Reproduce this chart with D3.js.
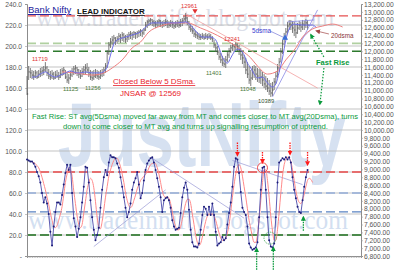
<!DOCTYPE html>
<html>
<head>
<meta charset="utf-8">
<script src="https://cdn.jsdelivr.net/npm/d3@7"></script>
<style>
  body { margin: 0; background: #fff; }
  svg { display: block; font-family: "Liberation Sans", Arial, sans-serif; }
</style>
</head>
<body>
<div id="chart"></div>
<script>
// axis ticks
const leftTicks = [0, 20, 40, 60, 80, 100, 120, 140, 160, 180, 200, 220, 240];
const rightTicks = [6800, 7000, 7200, 7400, 7600, 7800, 8000, 8200, 8400, 8600, 8800, 9000, 9200,
  9400, 9600, 9800, 10000, 10200, 10400, 10600, 10800, 11000, 11200, 11400, 11600, 11800,
  12000, 12200, 12400, 12600, 12800, 13000, 13200];

// Bank Nifty daily bars (price)
const close = [10915,11475,11450,11395,11370,11450,11345,11420,11475,11500,
  11525,11575,11450,11370,11345,11420,11320,11395,11370,11345,
  11420,11500,11525,11345,11270,11320,11395,11475,11550,11575,
  11525,11420,11370,11475,11525,11575,11525,11420,11345,11320,
  11370,11395,11370,11345,11395,11450,11525,11625,11955,12160,
  12235,12285,12335,12260,12310,12385,12335,12415,12360,12310,
  12360,12415,12440,12415,12465,12440,12465,12490,12515,12465,
  12540,12665,12745,12770,12795,12745,12720,12690,12745,12770,
  12720,12665,12720,12745,12690,12665,12720,12690,12640,12690,
  12720,12665,12745,12770,12820,12845,12745,12615,12565,12515,
  12440,12415,12385,12360,12360,12385,12335,12385,12360,12385,
  12335,12310,12160,12085,11980,11855,11780,11700,11675,11780,
  11905,12005,12085,12135,12110,12160,12110,12030,11905,11830,
  11725,11525,11420,11270,11320,11475,11525,11420,11370,11320,
  11345,11270,11170,11115,11065,10990,10940,11015,11220,11370,
  11575,11725,11980,12185,12360,12490,12640,12690,12665,12590,
  12540,12465,12590,12665,12615,12690,12665,12720,12665];
const high = [11370,11625,11575,11525,11500,11525,11500,11525,11575,11600,
  11625,11725,11625,11550,11500,11525,11475,11500,11525,11475,
  11550,11575,11600,11525,11450,11420,11500,11575,11625,11650,
  11600,11550,11525,11575,11625,11675,11700,11600,11525,11500,
  11525,11550,11525,11500,11525,11550,11600,11700,12030,12235,
  12335,12385,12415,12360,12385,12465,12440,12490,12465,12415,
  12440,12490,12515,12490,12515,12490,12515,12540,12565,12540,
  12590,12745,12795,12820,12845,12820,12795,12770,12795,12820,
  12795,12770,12795,12820,12795,12770,12795,12770,12745,12770,
  12795,12770,12820,12845,12895,12970,12870,12770,12690,12640,
  12565,12515,12490,12465,12440,12465,12440,12465,12440,12465,
  12440,12385,12285,12185,12135,12030,11955,11880,11830,11880,
  11980,12085,12160,12210,12185,12235,12210,12160,12085,11980,
  11905,11830,11725,11625,11525,11625,11650,11625,11575,11550,
  11525,11475,11420,11370,11320,11270,11195,11220,11320,11475,
  11675,11830,12085,12285,12465,12590,12745,12795,12795,12770,
  12745,12690,12720,12770,12745,12795,12770,12820,12795];
const low = [10890,11270,11320,11295,11270,11320,11295,11320,11345,11370,
  11395,11475,11370,11295,11270,11295,11270,11295,11320,11270,
  11320,11370,11395,11295,11195,11170,11270,11345,11395,11420,
  11370,11320,11295,11345,11395,11420,11450,11345,11270,11245,
  11270,11320,11295,11270,11295,11345,11370,11450,11575,11905,
  12085,12160,12185,12160,12185,12235,12210,12260,12235,12210,
  12235,12285,12310,12285,12335,12310,12335,12360,12385,12360,
  12415,12515,12590,12640,12665,12640,12615,12590,12615,12640,
  12615,12590,12615,12640,12590,12590,12615,12590,12565,12590,
  12615,12590,12615,12640,12690,12745,12665,12540,12490,12440,
  12360,12335,12310,12285,12285,12310,12285,12310,12285,12310,
  12285,12235,12085,11980,11905,11780,11700,11625,11600,11575,
  11725,11830,11955,12005,11980,12030,12005,11905,11780,11675,
  11575,11420,11320,11170,11115,11270,11320,11270,11220,11195,
  11170,11115,11065,11015,10965,10890,10840,10865,11015,11170,
  11320,11475,11725,11930,12160,12285,12440,12540,12540,12465,
  12385,12335,12440,12540,12490,12540,12540,12590,12540];

// moving averages (bar index, price)
const sma5Idx = [3,5,8,11,14,17,20,23,26,30,32,35,39,44,47,48,50,52,54,59,
  65,68,71,75,83,90,95,99,102,105,110,113,115,117,120,122,124,126,128,130,
  132,134,136,138,141,144,147,149,151,153,155,157,160,165,171,173];
const sma5Val = [11345,11345,11420,11475,11395,11345,11395,11450,11500,11450,
  11450,11475,11450,11450,11525,11600,11905,12185,12285,12360,
  12440,12490,12615,12720,12720,12720,12745,12615,12465,12360,
  12360,12285,12085,11855,11700,11830,11980,12055,12030,11905,
  11700,11575,11420,11320,11345,11195,11090,11170,11475,11830,
  12285,12565,12690,12665,12665,12615];
const sma20Idx = [21,29,39,46,51,57,63,68,73,80,89,96,104,111,117,123,129,134,
  138,144,150,155,161,165,171,177,183,189];
const sma20Val = [11475,11450,11395,11450,11575,11780,12085,12235,12490,12640,
  12720,12720,12590,12465,12335,12185,12005,11830,11625,11420,11500,11780,
  12085,12360,12565,12640,12690,12615];

// lead indicator (left scale) and its average
const lead = [92,91,90,90,88,85,80,76,70,60,
  51,56,50,40,23,10,28,42,51,51,
  49,58,68,79,87,82,87,60,36,28,
  18,26,37,51,66,85,84,70,53,37,
  25,15,20,27,46,63,75,82,77,89,
  96,94,94,93,88,84,75,66,56,46,
  37,42,50,63,70,74,80,68,55,60,
  72,82,88,91,93,94,89,82,74,66,
  56,42,53,55,56,53,46,34,28,25,
  26,27,41,56,65,70,63,44,25,13,
  9,9,8,12,25,39,47,45,39,47,
  39,50,39,23,10,12,13,18,15,17,
  30,41,51,66,85,93,92,79,61,46,
  42,39,28,12,8,6,7,8,13,37,
  63,84,85,63,37,15,9,8,12,37,
  70,89,91,93,92,94,92,94,89,75,
  63,55,47,42,41,53,66,75,82];
const leadAvg = [null,null,null,89,89,88,86,84,80,75,69,63,56,
  49,41,34,28,27,29,34,40,47,58,
  70,78,84,82,76,62,50,38,30,27,
  30,41,52,63,70,74,72,65,52,37,
  28,26,33,44,56,66,76,82,87,91,
  93,93,90,85,78,70,60,53,48,46,
  48,53,58,64,68,72,74,76,78,80,
  84,87,88,89,88,84,78,70,62,57,
  56,56,55,50,42,34,28,25,25,28,
  35,43,50,54,54,50,40,30,20,13,
  10,12,18,26,33,38,40,40,40,38,
  34,28,22,17,15,15,17,22,30,42,
  56,68,78,85,87,84,76,66,56,45,
  34,26,18,13,13,20,35,53,70,82,
  82,72,56,38,24,15,15,25,42,60,
  76,87,92,94,93,90,82,72,62,55,
  51,50,53,59,66,72,74,73,70];

// reference levels
const priceLevels = [12900, 12200, 12000];
const leadLevels = [80, 60, 42, 20];

// trend lines: [index, value] pairs
const priceTrendRed = [[95, 12950], [174, 11065]];
const priceTrendBlue = [[[147, 10840], [174, 13050]], [[156, 12745], [172, 12795]], [[162, 12210], [172, 12640]]];
const leadTrends = [[[40, 9], [83, 63]], [[75, 93], [130, 36]], [[123, 91], [165, 68]]];

// signal arrows on the lead indicator
const sellIdx = [126, 141, 157.5, 168];
const sellFrom = [108, 99, 108, 99];
const sellTo = [96, 89, 97, 87];
const buyIdx = [137.5, 147.5, 165.5];
const buyFrom = [-13, -13, 24];
const buyTo = [7, 8, 37];

const W = 400, H = 272;

const x  = d3.scaleLinear().domain([0, 200]).range([27, 361]);
const yL = d3.scaleLinear().domain([0, 240]).range([256, 4]);
const yP = d3.scaleLinear().domain([6800, 13200]).range([256, 4]);

const svg = d3.select('#chart')
              .append('svg')
              .attr('width', W)
              .attr('height', H);

const defs = svg.append('defs');
[['red', '#ff1a1a'], ['green', '#0a9a3c'], ['brown', '#a04545']].forEach(([id, c]) => {
  defs.append('marker')
      .attr('id', 'arr-' + id)
      .attr('viewBox', '0 0 10 10')
      .attr('refX', 7)
      .attr('refY', 5)
      .attr('markerWidth', 5)
      .attr('markerHeight', 5)
      .attr('markerUnits', 'userSpaceOnUse')
      .attr('orient', 'auto-start-reverse')
      .append('path')
      .attr('d', 'M0,0L10,5L0,10z')
      .attr('fill', c);
});

// watermarks
svg.append('text')
   .attr('transform', 'translate(58,166) scale(1,1.35)')
   .attr('textLength', 288).attr('lengthAdjust', 'spacingAndGlyphs')
   .style('font', 'bold 67px "Liberation Sans", Arial, sans-serif')
   .attr('fill', '#d6e1f1')
   .text('JustNifty');

svg.append('text')
   .attr('x', 36).attr('y', 26)
   .attr('textLength', 298).attr('lengthAdjust', 'spacingAndGlyphs')
   .style('font', '26px "Liberation Serif", "DejaVu Serif", serif')
   .attr('fill', '#dcdfe9')
   .text('www.tradeinnifty.blogspot.com');

svg.append('text')
   .attr('x', 28).attr('y', 229)
   .attr('textLength', 320).attr('lengthAdjust', 'spacingAndGlyphs')
   .style('font', '27px "Liberation Serif", "DejaVu Serif", serif')
   .attr('fill', '#d3dff1')
   .text('www.tradeinnifty.blogspot.com');

// grid
svg.append('g')
   .selectAll('line')
   .data(leftTicks.filter(v => v > 0 && v < 240))
   .join('line')
   .attr('x1', x(0)).attr('x2', x(200))
   .attr('y1', d => yL(d)).attr('y2', d => yL(d))
   .attr('stroke', '#b4b4b4')
   .attr('stroke-width', 0.8);

// dashed levels
const priceLevelStyle = [['#e65050', 1.3], ['#b0d0a0', 1.6], ['#2d7a2d', 1.3]];
svg.append('g')
   .selectAll('line')
   .data(priceLevels)
   .join('line')
   .attr('x1', x(0)).attr('x2', x(200))
   .attr('y1', d => yP(d)).attr('y2', d => yP(d))
   .attr('stroke', (d, i) => priceLevelStyle[i][0])
   .attr('stroke-width', (d, i) => priceLevelStyle[i][1])
   .attr('stroke-dasharray', '9,4');

const leadLevelStyle = [['#e84848', 1.5], ['#93acd8', 1.6], ['#5a83c2', 1.3], ['#1b6e1b', 1.3]];
svg.append('g')
   .selectAll('line')
   .data(leadLevels)
   .join('line')
   .attr('x1', x(0)).attr('x2', x(200))
   .attr('y1', d => yL(d)).attr('y2', d => yL(d))
   .attr('stroke', (d, i) => leadLevelStyle[i][0])
   .attr('stroke-width', (d, i) => leadLevelStyle[i][1])
   .attr('stroke-dasharray', '9,4');

// axes
const axisL = d3.axisLeft(yL)
                .tickValues(leftTicks)
                .tickSize(2)
                .tickPadding(3)
                .tickFormat(d => d === 0 ? '-' : d.toFixed(1));
const axisR = d3.axisRight(yP)
                .tickValues(rightTicks)
                .tickSize(2)
                .tickPadding(1)
                .tickFormat(d3.format(',.2f'));
const axisB = d3.axisBottom(x)
                .tickValues(d3.range(0, 201))
                .tickSize(2)
                .tickFormat('');

[[axisL, `translate(${x(0)},0)`], [axisR, `translate(${x(200)},0)`], [axisB, `translate(0,${yL(0)})`]]
  .forEach(([ax, t]) => {
    const g = svg.append('g').attr('transform', t).call(ax);
    g.select('.domain').attr('stroke', '#8c8c8c');
    g.selectAll('.tick line').attr('stroke', '#9a9a9a').attr('stroke-width', 0.6);
    g.selectAll('.tick text')
     .attr('fill', '#555')
     .style('font-size', '6.7px')
     .style('font-family', '"Liberation Sans", Arial, sans-serif');
  });

// price bars
const bars = svg.append('g');
bars.selectAll('line.hl')
    .data(close)
    .join('line')
    .attr('class', 'hl')
    .attr('x1', (d, i) => x(i)).attr('x2', (d, i) => x(i))
    .attr('y1', (d, i) => yP(high[i])).attr('y2', (d, i) => yP(low[i]))
    .attr('stroke', '#5c5c5c')
    .attr('stroke-width', 0.8);
bars.selectAll('line.cl')
    .data(close)
    .join('line')
    .attr('class', 'cl')
    .attr('x1', (d, i) => x(i)).attr('x2', (d, i) => x(i) + 1.2)
    .attr('y1', d => yP(d)).attr('y2', d => yP(d))
    .attr('stroke', '#444')
    .attr('stroke-width', 0.8);

const lineP = d3.line().curve(d3.curveMonotoneX).x(d => x(d[0])).y(d => yP(d[1]));
const straightP = d3.line().x(d => x(d[0])).y(d => yP(d[1]));
const straightL = d3.line().x(d => x(d[0])).y(d => yL(d[1]));

// trend lines
svg.append('path')
   .attr('d', straightP(priceTrendRed))
   .attr('fill', 'none').attr('stroke', '#f2a0a0').attr('stroke-width', 0.8);
priceTrendBlue.forEach(t => {
  svg.append('path')
     .attr('d', straightP(t))
     .attr('fill', 'none').attr('stroke', '#8a8ae6').attr('stroke-width', 0.8);
});
leadTrends.forEach(t => {
  svg.append('path')
     .attr('d', straightL(t))
     .attr('fill', 'none').attr('stroke', '#9a9ad6').attr('stroke-width', 0.7);
});

// moving averages
svg.append('path')
   .attr('d', lineP(d3.zip(sma20Idx, sma20Val)))
   .attr('fill', 'none').attr('stroke', '#ee8080').attr('stroke-width', 1);
svg.append('path')
   .attr('d', lineP(d3.zip(sma5Idx, sma5Val)))
   .attr('fill', 'none').attr('stroke', '#6e6ee8').attr('stroke-width', 1);

// lead indicator
svg.append('path')
   .attr('d', d3.line().defined(d => d[1] !== null).curve(d3.curveMonotoneX)
               .x(d => x(d[0])).y(d => yL(d[1]))(leadAvg.map((v, i) => [i, v])))
   .attr('fill', 'none').attr('stroke', '#ff8a8a').attr('stroke-width', 1);
svg.append('path')
   .attr('d', straightL(lead.map((v, i) => [i, v])))
   .attr('fill', 'none').attr('stroke', '#4b4baa').attr('stroke-width', 0.9);
svg.append('g')
   .selectAll('circle')
   .data(lead)
   .join('circle')
   .attr('cx', (d, i) => x(i))
   .attr('cy', d => yL(d))
   .attr('r', 1)
   .attr('fill', '#1c1c78');

// signal circles
svg.append('circle')
   .attr('cx', x(141)).attr('cy', yL(84)).attr('r', 5)
   .attr('fill', 'none').attr('stroke', '#f05050').attr('stroke-width', 1);
svg.append('circle')
   .attr('cx', x(145.5)).attr('cy', yL(17)).attr('r', 6)
   .attr('fill', 'none').attr('stroke', '#3aa04a').attr('stroke-width', 0.8)
   .attr('stroke-dasharray', '1.5,1');

// signal arrows
sellIdx.forEach((v, k) => {
  svg.append('path')
     .attr('d', d3.line()([[x(v), yL(sellFrom[k])], [x(v), yL(sellTo[k])]]))
     .attr('stroke', '#ff1a1a').attr('stroke-width', 1.3)
     .attr('stroke-dasharray', '1.5,1')
     .attr('marker-end', 'url(#arr-red)');
});
buyIdx.forEach((v, k) => {
  svg.append('path')
     .attr('d', d3.line()([[x(v), yL(buyFrom[k])], [x(v), yL(buyTo[k])]]))
     .attr('stroke', '#0a9a3c').attr('stroke-width', 1.3)
     .attr('stroke-dasharray', '1.5,1')
     .attr('marker-end', 'url(#arr-green)');
});

// upper panel callouts
svg.append('path')
   .attr('d', straightP([[170, 12415], [177.8, 11855]]))
   .attr('fill', 'none').attr('stroke', '#0a9a3c').attr('stroke-width', 1.2)
   .attr('stroke-dasharray', '1.5,1.5')
   .attr('marker-start', 'url(#arr-green)');
svg.append('path')
   .attr('d', straightP([[177.8, 11575], [175.4, 10660]]))
   .attr('fill', 'none').attr('stroke', '#0a9a3c').attr('stroke-width', 1.2)
   .attr('stroke-dasharray', '1.5,1.5')
   .attr('marker-end', 'url(#arr-green)');
svg.append('path')
   .attr('d', straightP([[180.8, 12438], [173.4, 12515]]))
   .attr('fill', 'none').attr('stroke', '#a04545').attr('stroke-width', 0.7)
   .attr('marker-end', 'url(#arr-brown)');
svg.append('path')
   .attr('d', straightP([[145.5, 12515], [154.5, 12335]]))
   .attr('fill', 'none').attr('stroke', '#7a7ad8').attr('stroke-width', 0.7);
svg.append('path')
   .attr('d', d3.symbol(d3.symbolTriangle).size(16)())
   .attr('transform', `translate(${x(154.5)},${yP(12335)})`)
   .attr('fill', '#3a6fd8');
svg.append('path')
   .attr('d', d3.symbol(d3.symbolTriangle).size(12)())
   .attr('transform', `translate(${x(100.6)},${yP(13030)}) rotate(180)`)
   .attr('fill', '#e03030');

// texts
const labels = [
  { t: 'Bank Nifty', x: 28, y: 13, c: '#1c1c9c', s: 9.5, u: true },
  { t: 'LEAD INDICATOR', x: 77, y: 14, c: '#111', s: 8, b: true, u: true },
  { t: '12961', x: 181, y: 8, c: '#e03030', s: 5.8 },
  { t: '11719', x: 32, y: 61, c: '#e03030', s: 5.8 },
  { t: '11125', x: 63, y: 91, c: '#4a7a3a', s: 5.8 },
  { t: '11256', x: 85, y: 90, c: '#4a7a3a', s: 5.8 },
  { t: '12241', x: 224, y: 41, c: '#e03030', s: 5.8 },
  { t: '11401', x: 206, y: 75, c: '#4a7a3a', s: 5.8 },
  { t: '11048', x: 240, y: 91, c: '#4a7a3a', s: 5.8 },
  { t: '10389', x: 258, y: 103, c: '#2f4f2f', s: 5.8 },
  { t: '5dsma', x: 252, y: 33, c: '#3a3ad0', s: 6.3 },
  { t: '20dsma', x: 331, y: 38, c: '#8a3535', s: 6.3 },
  { t: 'Closed  Below 5 DSma.', x: 113, y: 84, c: '#e8212b', s: 8, u: true },
  { t: 'JNSAR @ 12569', x: 120, y: 96, c: '#e8212b', s: 8 },
  { t: 'Fast Rise', x: 316, y: 65, c: '#0a9a3c', s: 7.5, b: true }
];
svg.append('g')
   .selectAll('text')
   .data(labels)
   .join('text')
   .attr('x', d => d.x)
   .attr('y', d => d.y)
   .attr('fill', d => d.c)
   .attr('text-decoration', d => d.u ? 'underline' : null)
   .style('font-size', d => d.s + 'px')
   .style('font-weight', d => d.b ? 'bold' : 'normal')
   .text(d => d.t);

const note = [
  ['Fast Rise:  ST avg(5Dsma) moved far away from MT  and comes closer  to MT avg(20Dsma), turns', 32, 119, 326],
  ['down to come closer to MT avg and turns up signalling resumption of uptrend.', 63, 129, 265]
];
svg.append('g')
   .selectAll('text')
   .data(note)
   .join('text')
   .attr('x', d => d[1])
   .attr('y', d => d[2])
   .attr('textLength', d => d[3])
   .attr('lengthAdjust', 'spacingAndGlyphs')
   .attr('fill', '#0a9a3c')
   .style('font-size', '7.6px')
   .text(d => d[0]);
</script>
</body>
</html>
